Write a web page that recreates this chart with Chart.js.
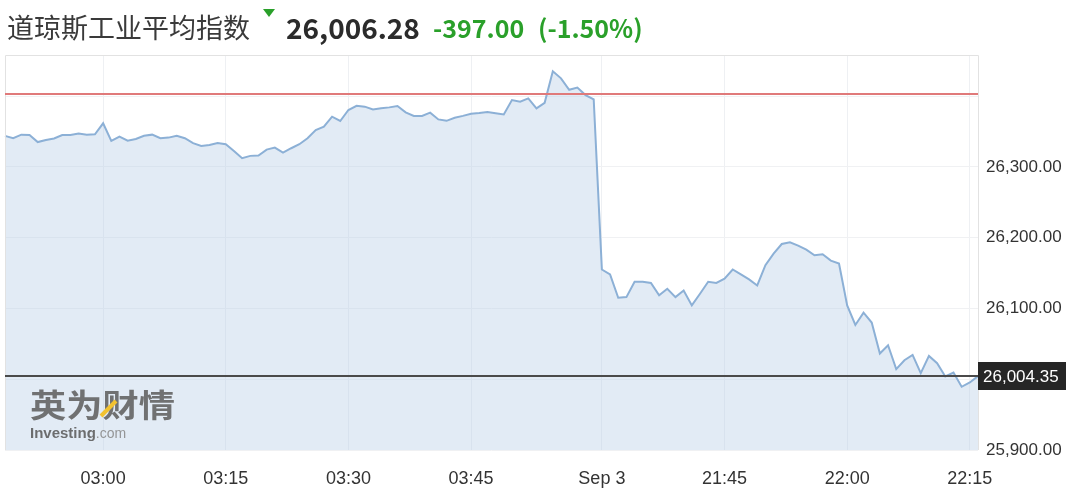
<!DOCTYPE html>
<html>
<head>
<meta charset="utf-8">
<script src="https://cdn.jsdelivr.net/npm/chart.js@4.4.0/dist/chart.umd.min.js"></script>
<style>
html,body{margin:0;padding:0;background:#fff;width:1080px;height:497px;overflow:hidden;}
#wrap{position:relative;width:1080px;height:497px;}
#c{position:absolute;left:0;top:0;}
.h{position:absolute;white-space:nowrap;line-height:1;font-family:"Noto Sans CJK SC","Noto Sans",sans-serif;}
#name{left:7px;top:13px;font-size:27px;color:#3a3a3a;}
#tri{position:absolute;left:263px;top:9px;width:0;height:0;border-left:6px solid transparent;border-right:6px solid transparent;border-top:8px solid #2aa02a;}
#last{left:286px;top:13px;font-size:28px;font-weight:bold;color:#2b2b2b;}
#chg{left:433px;top:15px;font-size:25px;font-weight:bold;color:#2aa02a;}
#pct{left:538px;top:15px;font-size:25px;font-weight:bold;color:#2aa02a;}
</style>
</head>
<body>
<div id="wrap">
<canvas id="c" width="1080" height="497"></canvas>
<div class="h" id="name">道琼斯工业平均指数</div>
<div id="tri"></div>
<div class="h" id="last">26,006.28</div>
<div class="h" id="chg">-397.00</div>
<div class="h" id="pct">(-1.50%)</div>
</div>
<script>
// ---- data ----
const session1Start = '02:48';
const session1 = [26343.7, 26340.4, 26345.5, 26345, 26335, 26338, 26340, 26345, 26345, 26347,
  26345.5, 26346, 26361.5, 26336.6, 26342.7, 26337, 26339.4, 26344, 26345.5, 26340.4,
  26341.3, 26344, 26340.4, 26333.4, 26329.6, 26331, 26333.8, 26332, 26322.5, 26312.2,
  26315.5, 26316, 26324.4, 26327.2, 26320, 26326.3, 26332, 26340.4, 26352, 26356.7,
  26370.8, 26364.8, 26380.3, 26386.3, 26385, 26381, 26382.7, 26384, 26386, 26377,
  26372, 26372, 26376.5, 26367, 26365, 26369.4, 26372, 26375, 26376, 26377.4,
  26375.6, 26374, 26394.3, 26392, 26396.7, 26382.7, 26390.5, 26435, 26425, 26408.8,
  26412, 26401.4, 26395.3];
const session2Start = '21:30';
const session2 = [26155, 26148, 26115, 26116, 26137.7, 26137.7, 26136, 26118.4, 26127.8, 26116,
  26125.4, 26104.3, 26120.8, 26137.7, 26136, 26142, 26155, 26148, 26141, 26132.4,
  26161, 26177.5, 26191, 26193.4, 26188.8, 26183, 26175, 26176.5, 26167.6, 26163.4,
  26104.3, 26076.6, 26094, 26080, 26036.3, 26048, 26014.2, 26026.8, 26034.3, 26008.5,
  26032.9, 26022.6, 26003.9, 26009.5, 25989.3, 25995.4, 26004.35];
const xTickLabels = ['03:00', '03:15', '03:30', '03:45', '21:30', '21:45', '22:00', '22:15'];
const dayBreakLabels = { '21:30': 'Sep 3' };
const yTickLabels = [25900, 26100, 26200, 26300];
const yMin = 25900, yMax = 26458, yStep = 100;
const prevClose = 26403.28;
const lastPrice = 26004.35;

function minuteLabels(start, n) {
  const p = start.split(':').map(Number);
  let t = p[0] * 60 + p[1];
  const out = [];
  for (let i = 0; i < n; i++) {
    const h = Math.floor(((t + i) % 1440) / 60), m = (t + i) % 60;
    out.push(String(h).padStart(2, '0') + ':' + String(m).padStart(2, '0'));
  }
  return out;
}
const categories = minuteLabels(session1Start, session1.length).concat(minuteLabels(session2Start, session2.length));
const values = session1.concat(session2);
const fmt = v => v.toLocaleString('en-US', { minimumFractionDigits: 2, maximumFractionDigits: 2 });

const decor = {
  id: 'decor',
  afterDatasetsDraw(chart) {
    const { ctx, chartArea: a, scales: { y } } = chart;
    ctx.save();
    // frame
    ctx.strokeStyle = '#e2e2e2';
    ctx.lineWidth = 1;
    ctx.beginPath();
    ctx.moveTo(a.left + 0.5, a.bottom);
    ctx.lineTo(a.left + 0.5, a.top + 0.5);
    ctx.lineTo(a.right + 0.5, a.top + 0.5);
    ctx.lineTo(a.right + 0.5, a.bottom);
    ctx.stroke();
    // previous close line
    const yr = Math.round(y.getPixelForValue(prevClose));
    ctx.strokeStyle = '#e07a7a';
    ctx.lineWidth = 2;
    ctx.beginPath(); ctx.moveTo(a.left, yr); ctx.lineTo(a.right, yr); ctx.stroke();
    // last price line
    const yl = Math.round(y.getPixelForValue(lastPrice));
    ctx.strokeStyle = '#4a4a4a';
    ctx.beginPath(); ctx.moveTo(a.left, yl); ctx.lineTo(a.right, yl); ctx.stroke();
    // watermark
    ctx.fillStyle = 'rgba(100,100,100,0.9)';
    ctx.font = 'bold 33px "Noto Sans CJK SC"';
    ctx.textBaseline = 'alphabetic';
    const wm = '英为财情';
    const w = ctx.measureText(wm).width;
    ctx.save();
    ctx.translate(30, 417);
    ctx.scale(145 / w, 0.95);
    ctx.fillText(wm, 0, 0);
    ctx.restore();
    ctx.strokeStyle = '#f2c230';
    ctx.lineWidth = 4;
    ctx.beginPath(); ctx.moveTo(101, 416); ctx.lineTo(116, 401); ctx.stroke();
    ctx.font = 'bold 15px "Liberation Sans"';
    ctx.fillStyle = 'rgba(95,95,95,0.9)';
    ctx.fillText('Investing', 30, 438);
    const iw = ctx.measureText('Investing').width;
    ctx.font = '14px "Liberation Sans"';
    ctx.fillStyle = 'rgba(140,140,140,0.9)';
    ctx.fillText('.com', 30 + iw, 438);
    ctx.restore();
  },
  afterDraw(chart) {
    const { ctx, chartArea: a, scales: { y } } = chart;
    const yl = Math.round(y.getPixelForValue(lastPrice));
    ctx.save();
    ctx.fillStyle = '#262626';
    ctx.fillRect(a.right, yl - 14, 88, 28);
    ctx.fillStyle = '#ffffff';
    ctx.font = '17px "Liberation Sans"';
    ctx.textBaseline = 'middle';
    ctx.fillText(fmt(lastPrice), a.right + 5, yl + 1);
    ctx.restore();
  }
};

new Chart(document.getElementById('c'), {
  type: 'line',
  data: {
    labels: categories,
    datasets: [{
      data: values,
      borderColor: '#8cb0d6',
      borderWidth: 2,
      backgroundColor: 'rgba(186,208,232,0.42)',
      fill: 'start',
      pointRadius: 0,
      tension: 0
    }]
  },
  options: {
    responsive: false,
    animation: false,
    layout: { padding: { left: 5, top: 55, right: 0, bottom: 0 } },
    plugins: { legend: { display: false }, tooltip: { enabled: false } },
    scales: {
      x: {
        type: 'category',
        offset: false,
        afterFit: s => { s.height = 47; },
        border: { display: false },
        grid: { color: '#eef0f3', drawTicks: false, lineWidth: 1 },
        ticks: {
          autoSkip: false, maxRotation: 0, padding: 18,
          color: '#333', font: { family: 'Liberation Sans', size: 18 },
          callback: (v, i) => {
            const l = categories[i];
            if (!xTickLabels.includes(l)) return null;
            return dayBreakLabels[l] || l;
          }
        }
      },
      y: {
        position: 'right',
        min: yMin, max: yMax,
        afterFit: s => { s.width = 102; },
        border: { display: false },
        grid: { color: '#f0f1f3', drawTicks: false },
        ticks: {
          stepSize: yStep, includeBounds: false, padding: 8,
          color: '#333', font: { family: 'Liberation Sans', size: 17 },
          callback: v => yTickLabels.includes(v) ? fmt(v) : ''
        }
      }
    }
  },
  plugins: [decor]
});
</script>
</body>
</html>
